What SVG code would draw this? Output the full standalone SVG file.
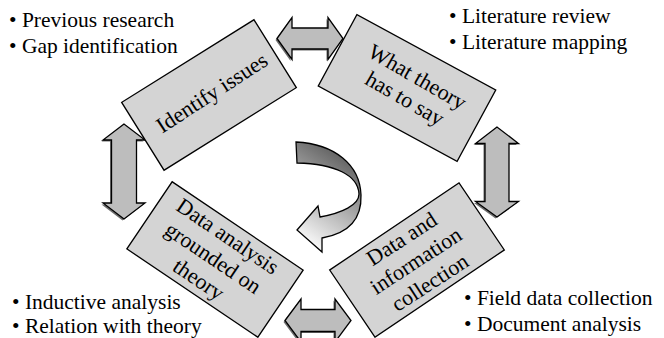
<svg xmlns="http://www.w3.org/2000/svg" width="664" height="338" viewBox="0 0 664 338">
<style>
.box{fill:#d4d4d4;stroke:#000;stroke-width:1.3}
.arr{fill:#bdbdbd;stroke:#000;stroke-width:1.3;stroke-linejoin:miter}
.sh{fill:#6e6e6e;stroke:none}
.bt{font-family:"Liberation Serif","Times New Roman",serif;font-size:22px;fill:#000;text-anchor:middle}
.lt{font-family:"Liberation Serif","Times New Roman",serif;font-size:21.5px;fill:#000}
</style>
<defs>
<linearGradient id="cg" gradientUnits="userSpaceOnUse" x1="362" y1="150" x2="300" y2="242">
<stop offset="0" stop-color="#4a4a4a"/>
<stop offset="1" stop-color="#ffffff"/>
</linearGradient>
</defs>

<g id="connectors">
<g id="arrow-top">
<polygon class="sh" points="275.5,40 290.5,19 290.5,29.5 326.5,29.5 326.5,19 341.5,40 326.5,61 326.5,50.5 290.5,50.5 290.5,61"/>
<polygon class="arr" points="277,38.5 292,17.5 292,28 328,28 328,17.5 343,38.5 328,59.5 328,49 292,49 292,59.5"/>
</g>
<g id="arrow-right">
<polygon class="sh" points="495.5,128.5 474,145 483.5,145 483.5,203 474,203 495.5,218.5 517,203 507.5,203 507.5,145 517,145"/>
<polygon class="arr" points="497,127 475.5,143.5 485,143.5 485,201.5 475.5,201.5 497,217 518.5,201.5 509,201.5 509,143.5 518.5,143.5"/>
</g>
<g id="arrow-bottom">
<polygon class="sh" points="283.5,322 299.5,300.5 299.5,311 333.5,311 333.5,300.5 349.5,322 333.5,343.5 333.5,333 299.5,333 299.5,343.5"/>
<polygon class="arr" points="285,320.5 301,299 301,309.5 335,309.5 335,299 351,320.5 335,342 335,331.5 301,331.5 301,342"/>
</g>
<g id="arrow-left">
<polygon class="sh" points="122.5,125.5 101.5,141.5 110,141.5 110,204.5 101.5,204.5 122.5,220.5 143.5,204.5 135,204.5 135,141.5 143.5,141.5"/>
<polygon class="arr" points="124,124 103,140 111.5,140 111.5,203 103,203 124,219 145,203 136.5,203 136.5,140 145,140"/>
</g>
<g id="arrow-cycle">
<path d="M296,142 C335,144 360,165 361,195 C362,222 345,234 322,238 L322,252 L297,230 L318,206 L320,217 C342,213 359,205 359,194 C358,175 335,164 297,163 Z" fill="url(#cg)" stroke="#000" stroke-width="1.3" stroke-linejoin="miter"/>
</g>
</g>

<g id="node-identify">
<rect class="box" x="-78" y="-40" width="156" height="80" transform="translate(209,95) rotate(-32)"/>
<text class="bt" transform="translate(212,93) rotate(-33)" x="0" y="7">Identify issues</text>
</g>

<g id="node-theory">
<rect class="box" x="-79" y="-40.5" width="158" height="81" transform="translate(407,88) rotate(28.5)"/>
<text class="bt" transform="translate(411,88) rotate(30)"><tspan x="0" y="-5.5">What theory</tspan><tspan x="0" y="19.5">has to say</tspan></text>
</g>

<g id="node-analysis">
<rect class="box" x="-79" y="-40.5" width="158" height="81" transform="translate(215,259.5) rotate(34)"/>
<text class="bt" transform="translate(213,258) rotate(34)"><tspan x="0" y="-19">Data analysis</tspan><tspan x="0" y="7">grounded on</tspan><tspan x="0" y="33">theory</tspan></text>
</g>

<g id="node-collection">
<rect class="box" x="-78" y="-40.5" width="156" height="81" transform="translate(417,260) rotate(-34)"/>
<text class="bt" transform="translate(416,261) rotate(-33)"><tspan x="0" y="-19">Data and</tspan><tspan x="0" y="7">information</tspan><tspan x="0" y="33">collection</tspan></text>
</g>

<g id="notes">
<text class="lt" x="9" y="27">• Previous research</text>
<text class="lt" x="9" y="53">• Gap identification</text>
<text class="lt" x="449" y="23">• Literature review</text>
<text class="lt" x="449" y="49">• Literature mapping</text>
<text class="lt" x="12" y="309">• Inductive analysis</text>
<text class="lt" x="12" y="333">• Relation with theory</text>
<text class="lt" x="464" y="305">• Field data collection</text>
<text class="lt" x="464" y="331">• Document analysis</text>
</g>
</svg>
